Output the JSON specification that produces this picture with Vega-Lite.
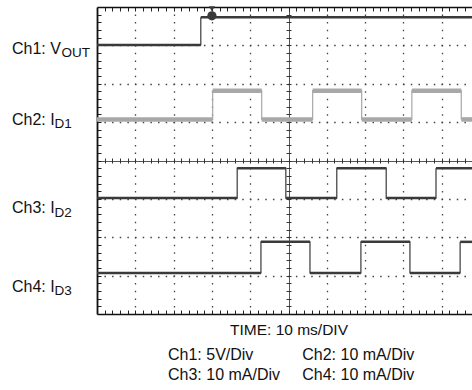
{
  "$schema": "https://vega.github.io/schema/vega-lite/v6.json",
  "width": 375,
  "height": 307,
  "autosize": {"type": "none"},
  "padding": {"left": 97, "top": 7, "right": 0, "bottom": 76},
  "background": "white",
  "config": {"view": {"stroke": null}, "font": "Liberation Sans"},
  "title": {
    "text": ["Ch1: 5V/Div\u00a0\u00a0\u00a0\u00a0\u00a0\u00a0\u00a0\u00a0\u00a0\u00a0\u00a0Ch2: 10 mA/Div", "Ch3: 10 mA/Div\u00a0\u00a0\u00a0\u00a0\u00a0Ch4: 10 mA/Div"],
    "orient": "bottom", "anchor": "start", "frame": "group", "align": "left", "baseline": "top",
    "dx": 71, "offset": 9, "lineHeight": 20,
    "font": "Liberation Sans", "fontSize": 16, "fontWeight": "normal", "color": "#111"
  },
  "datasets": {
    "segments": [
      {"ch": "Ch1", "t0": 0, "t1": 27.1, "v": 7.01},
      {"ch": "Ch1", "t0": 27.1, "t1": 97.9, "v": 7.73},
      {"ch": "Ch2", "t0": 0, "t1": 30.2, "v": 5.07},
      {"ch": "Ch2", "t0": 30.2, "t1": 43.0, "v": 5.82},
      {"ch": "Ch2", "t0": 43.0, "t1": 56.3, "v": 5.07},
      {"ch": "Ch2", "t0": 56.3, "t1": 69.1, "v": 5.82},
      {"ch": "Ch2", "t0": 69.1, "t1": 82.2, "v": 5.07},
      {"ch": "Ch2", "t0": 82.2, "t1": 95.1, "v": 5.82},
      {"ch": "Ch2", "t0": 95.1, "t1": 97.9, "v": 5.07},
      {"ch": "Ch3", "t0": 0, "t1": 36.6, "v": 3.02},
      {"ch": "Ch3", "t0": 36.6, "t1": 49.3, "v": 3.80},
      {"ch": "Ch3", "t0": 49.3, "t1": 62.6, "v": 3.02},
      {"ch": "Ch3", "t0": 62.6, "t1": 75.5, "v": 3.80},
      {"ch": "Ch3", "t0": 75.5, "t1": 88.5, "v": 3.02},
      {"ch": "Ch3", "t0": 88.5, "t1": 97.9, "v": 3.80},
      {"ch": "Ch4", "t0": 0, "t1": 42.8, "v": 1.07},
      {"ch": "Ch4", "t0": 42.8, "t1": 55.6, "v": 1.88},
      {"ch": "Ch4", "t0": 55.6, "t1": 68.9, "v": 1.07},
      {"ch": "Ch4", "t0": 68.9, "t1": 81.7, "v": 1.88},
      {"ch": "Ch4", "t0": 81.7, "t1": 94.8, "v": 1.07},
      {"ch": "Ch4", "t0": 94.8, "t1": 97.9, "v": 1.88}
    ],
    "marker": [
      {"t": 30.0, "v": 7.77, "m": "circle"},
      {"t": 30.0, "v": 7.95, "m": "triangle-down"}
    ],
    "labels": [
      {"ch": "Ch1", "label": "Ch1: V", "sub": "OUT", "lv": 6.775},
      {"ch": "Ch2", "label": "Ch2: I", "sub": "D1", "lv": 4.933},
      {"ch": "Ch3", "label": "Ch3: I", "sub": "D2", "lv": 2.624},
      {"ch": "Ch4", "label": "Ch4: I", "sub": "D3", "lv": 0.581}
    ]
  },
  "resolve": {"axis": {"x": "independent", "y": "independent"}},
  "layer": [
    {
      "data": {"name": "segments"},
      "mark": {"type": "line", "interpolate": "step-after", "strokeWidth": 1.2},
      "encoding": {
        "x": {"field": "t0", "type": "quantitative",
          "scale": {"domain": [0, 97.9], "nice": false, "zero": false}, "axis": null},
        "y": {"field": "v", "type": "quantitative",
          "scale": {"domain": [0, 8], "nice": false, "zero": false}, "axis": null},
        "detail": {"field": "ch"},
        "color": {"field": "ch", "type": "nominal", "legend": null,
          "scale": {"domain": ["Ch1", "Ch2", "Ch3", "Ch4"], "range": ["#3a3a3a", "#a8a8a8", "#3a3a3a", "#3a3a3a"]}}
      }
    },
    {
      "data": {"name": "segments"},
      "mark": {"type": "rule"},
      "encoding": {
        "x": {"field": "t0", "type": "quantitative",
          "scale": {"domain": [0, 97.9], "nice": false, "zero": false},
          "axis": {"orient": "bottom", "values": [2,4,6,8,10,12,14,16,18,20,22,24,26,28,30,32,34,36,38,40,42,44,46,48,50,52,54,56,58,60,62,64,66,68,70,72,74,76,78,80,82,84,86,88,90,92,94,96],
            "tickSize": -4, "tickColor": "#222", "tickWidth": 1,
            "domain": true, "domainColor": "#111", "domainWidth": 1.6,
            "labels": false, "grid": false,
            "title": "TIME: 10 ms/DIV", "titleX": 191.5, "titleY": 20, "titleAlign": "center", "titleBaseline": "alphabetic",
            "titleFont": "Liberation Sans", "titleFontSize": 15.5, "titleFontWeight": "normal", "titleColor": "#111"}},
        "x2": {"field": "t1"},
        "y": {"field": "v", "type": "quantitative",
          "scale": {"domain": [0, 8], "nice": false, "zero": false},
          "axis": {"orient": "left", "values": [0.2,0.4,0.6,0.8,1,1.2,1.4,1.6,1.8,2,2.2,2.4,2.6,2.8,3,3.2,3.4,3.6,3.8,4,4.2,4.4,4.6,4.8,5,5.2,5.4,5.6,5.8,6,6.2,6.4,6.6,6.8,7,7.2,7.4,7.6,7.8],
            "tickSize": -4, "tickColor": "#222", "tickWidth": 1,
            "domain": true, "domainColor": "#111", "domainWidth": 1.8,
            "labels": false, "grid": false, "title": null}},
        "color": {"field": "ch", "type": "nominal", "legend": null,
          "scale": {"domain": ["Ch1", "Ch2", "Ch3", "Ch4"], "range": ["#151515", "#8a8a8a", "#151515", "#151515"]}},
        "strokeWidth": {"condition": {"test": "datum.ch === 'Ch2'", "value": 4.5}, "value": 2.5}
      }
    },
    {
      "data": {"name": "marker"},
      "mark": {"type": "point", "filled": true, "opacity": 1},
      "encoding": {
        "x": {"field": "t", "type": "quantitative",
          "scale": {"domain": [0, 97.9], "nice": false, "zero": false},
          "axis": {"orient": "top", "values": [2,4,6,8,10,12,14,16,18,20,22,24,26,28,30,32,34,36,38,40,42,44,46,48,50,52,54,56,58,60,62,64,66,68,70,72,74,76,78,80,82,84,86,88,90,92,94,96],
            "tickSize": -4, "tickColor": "#222", "tickWidth": 1,
            "domain": true, "domainColor": "#111", "domainWidth": 1.3,
            "labels": false, "grid": false, "title": null}},
        "y": {"field": "v", "type": "quantitative",
          "scale": {"domain": [0, 8], "nice": false, "zero": false},
          "axis": {"orient": "left", "values": [1,2,3,5,6,7],
            "grid": true, "gridDash": [1.5, 6.16], "gridDashOffset": 0.75, "gridColor": "#444", "gridWidth": 1.3,
            "domain": false, "ticks": false, "labels": false, "title": null}},
        "shape": {"field": "m", "type": "nominal", "legend": null,
          "scale": {"domain": ["circle", "triangle-down"], "range": ["circle", "triangle-down"]}},
        "size": {"field": "m", "type": "nominal", "legend": null,
          "scale": {"domain": ["circle", "triangle-down"], "range": [85, 35]}},
        "color": {"value": "#3a3a3a"}
      }
    },
    {
      "data": {"name": "labels"},
      "mark": {"type": "text", "align": "left", "baseline": "alphabetic", "font": "Liberation Sans", "fontSize": 16, "color": "#111"},
      "encoding": {
        "x": {"datum": -22.2, "type": "quantitative",
          "scale": {"domain": [0, 97.9], "nice": false, "zero": false},
          "axis": {"orient": "bottom", "values": [10,20,30,40,60,70,80,90],
            "grid": true, "gridDash": [1.5, 6.175], "gridDashOffset": 0.75, "gridColor": "#444", "gridWidth": 1.3,
            "domain": false, "ticks": false, "labels": false, "title": null}},
        "y": {"field": "lv", "type": "quantitative",
          "scale": {"domain": [0, 8], "nice": false, "zero": false},
          "axis": {"orient": "left", "offset": -194, "values": [0.2,0.4,0.6,0.8,1,1.2,1.4,1.6,1.8,2,2.2,2.4,2.6,2.8,3,3.2,3.4,3.6,3.8,4,4.2,4.4,4.6,4.8,5,5.2,5.4,5.6,5.8,6,6.2,6.4,6.6,6.8,7,7.2,7.4,7.6,7.8],
            "tickSize": 5, "tickColor": "#333", "tickWidth": 1,
            "domain": false, "labels": false, "grid": false, "title": null}},
        "text": {"field": "label"}
      }
    },
    {
      "data": {"name": "labels"},
      "transform": [{"filter": "datum.ch === 'Ch1'"}],
      "mark": {"type": "text", "align": "left", "baseline": "alphabetic", "font": "Liberation Sans", "fontSize": 13.5, "color": "#111", "dx": 49.5, "dy": 3.3},
      "encoding": {
        "x": {"datum": -22.2, "type": "quantitative",
          "scale": {"domain": [0, 97.9], "nice": false, "zero": false},
          "axis": {"orient": "bottom", "offset": -156, "values": [2,4,6,8,10,12,14,16,18,20,22,24,26,28,30,32,34,36,38,40,42,44,46,48,50,52,54,56,58,60,62,64,66,68,70,72,74,76,78,80,82,84,86,88,90,92,94,96],
            "tickSize": 5, "tickColor": "#333", "tickWidth": 1,
            "domain": false, "labels": false, "grid": false, "title": null}},
        "y": {"field": "lv", "type": "quantitative",
          "scale": {"domain": [0, 8], "nice": false, "zero": false},
          "axis": {"orient": "left", "values": [4],
            "grid": true, "gridColor": "#555", "gridWidth": 1,
            "domain": false, "ticks": false, "labels": false, "title": null}},
        "text": {"field": "sub"}
      }
    },
    {
      "data": {"name": "labels"},
      "transform": [{"filter": "datum.ch !== 'Ch1'"}],
      "mark": {"type": "text", "align": "left", "baseline": "alphabetic", "font": "Liberation Sans", "fontSize": 13.5, "color": "#111", "dx": 42.5, "dy": 3.3},
      "encoding": {
        "x": {"datum": -22.2, "type": "quantitative",
          "scale": {"domain": [0, 97.9], "nice": false, "zero": false},
          "axis": {"orient": "bottom", "values": [50],
            "grid": true, "gridColor": "#555", "gridWidth": 1,
            "domain": false, "ticks": false, "labels": false, "title": null}},
        "y": {"field": "lv", "type": "quantitative",
          "scale": {"domain": [0, 8], "nice": false, "zero": false},
          "axis": null},
        "text": {"field": "sub"}
      }
    }
  ]
}
